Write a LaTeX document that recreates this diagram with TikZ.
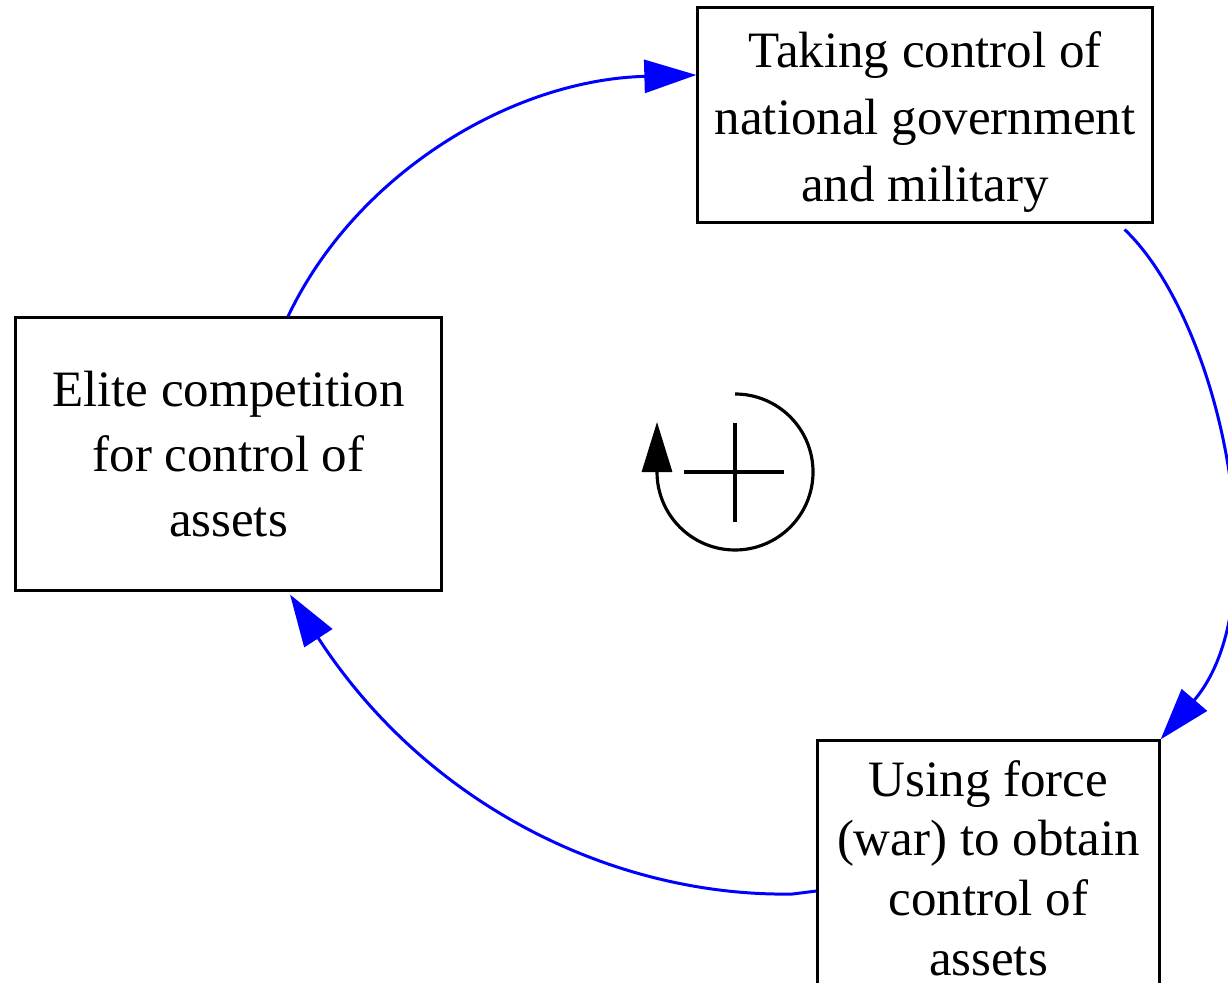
\documentclass[tikz,border=0pt]{standalone}
\usepackage{fontspec}
\setmainfont{Liberation Serif}
\usetikzlibrary{arrows.meta,calc}

\begin{document}
\begin{tikzpicture}[x=0.01cm, y=-0.01cm,
    box/.style={draw, line width=0.85pt, align=center, inner sep=0pt,
        font=\fontsize{14.5}{18.5}\selectfont},
    link/.style={blue, line width=0.85pt, -{Triangle[length=5.2mm, width=3.3mm]}}]
    \useasboundingbox (0,0) rectangle (1228,983);
    \clip (0,0) rectangle (1228,983);
    \node[box, minimum width=4.25cm, minimum height=2.72cm] (elite) at (228.5,454) {Elite competition\\for control of\\assets};
    \node[box, minimum width=4.54cm, minimum height=2.14cm, font=\fontsize{14.5}{19}\selectfont] (taking) at (925,115) {\rule{0pt}{0.5cm}Taking control of\\national government\\and military};
    \node[box, minimum width=3.41cm, minimum height=2.54cm, font=\fontsize{14.5}{17}\selectfont] (force) at (988.5,868) {Using force\\(war) to obtain\\control of\\assets};
    \draw[link] ([xshift=0.595cm]elite.north) .. controls (355,175) and (510,80) .. ([yshift=0.4cm]taking.west);
    \draw[link] ([xshift=-0.29cm,yshift=-0.06cm]taking.south east) .. controls (1220,320) and (1280,600) .. (force.north east);
    \draw[link] ([yshift=-0.23cm]force.west) -- ++(-24,3) .. controls (620,897) and (430,810) .. ([xshift=0.615cm,yshift=-0.03cm]elite.south);
    \coordinate (loop) at (735,472);
    \draw[line width=0.9pt, -{Triangle[length=5mm, width=3mm]}] ($(loop)+(0,-78)$) arc[start angle=-90, end angle=180, radius=78] -- ++(0,-50);
    \draw[line width=1.4pt] ($(loop)+(-51,0)$) -- ($(loop)+(49,0)$);
    \draw[line width=1.4pt] ($(loop)+(0,-49)$) -- ($(loop)+(0,50)$);
\end{tikzpicture}
\end{document}
